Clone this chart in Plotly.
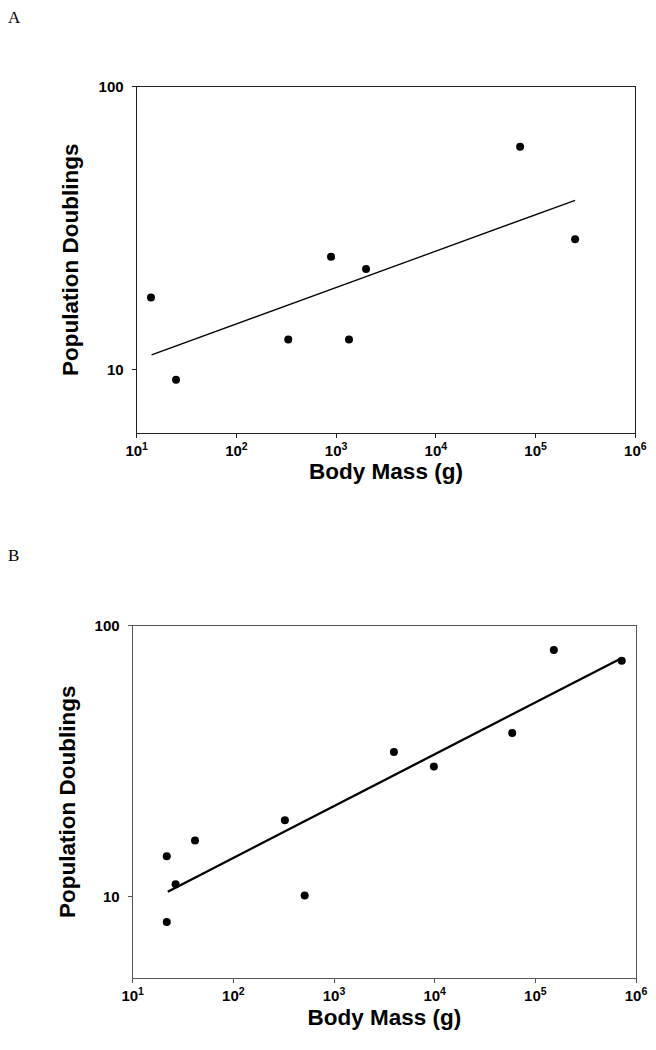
import math
import plotly.graph_objects as go

# ---- Panel A data ----
a_mass = [13.9, 24.8, 331, 889, 1345, 1995, 70000, 249000]
a_pd = [18.0, 9.22, 12.8, 25.1, 12.8, 22.7, 61.4, 28.9]
a_fit_mass = [14.1, 249000]
a_fit_pd = [11.3, 39.7]

# ---- Panel B data ----
b_mass = [21.8, 26.7, 21.8, 41.6, 325, 511, 3935, 9820, 58900, 152700, 722000]
b_pd = [14.06, 11.07, 8.04, 16.07, 19.1, 10.06, 34.1, 30.2, 40.1, 81.3, 74.2]
b_fit_mass = [22.3, 700000]
b_fit_pd = [10.4, 75.5]

x_tickvals = [10, 100, 1000, 10000, 100000, 1000000]
x_ticktext = ["10<sup>1</sup>", "10<sup>2</sup>", "10<sup>3</sup>",
              "10<sup>4</sup>", "10<sup>5</sup>", "10<sup>6</sup>"]
y_tickvals = [10, 100]
y_ticktext = ["10", "100"]

FONT = "Liberation Sans, Arial, sans-serif"

fig = go.Figure()
fig.add_trace(go.Scatter(x=a_fit_mass, y=a_fit_pd, mode="lines",
                         line=dict(color="black", width=1.3),
                         xaxis="x", yaxis="y", showlegend=False))
fig.add_trace(go.Scatter(x=a_mass, y=a_pd, mode="markers",
                         marker=dict(color="black", size=8),
                         xaxis="x", yaxis="y", showlegend=False))
fig.add_trace(go.Scatter(x=b_fit_mass, y=b_fit_pd, mode="lines",
                         line=dict(color="black", width=2.3),
                         xaxis="x2", yaxis="y2", showlegend=False))
fig.add_trace(go.Scatter(x=b_mass, y=b_pd, mode="markers",
                         marker=dict(color="black", size=8),
                         xaxis="x2", yaxis="y2", showlegend=False))


def xaxis(domain, anchor, color, standoff):
    return dict(type="log", domain=domain, anchor=anchor, automargin=False,
                range=[1, 6], tickvals=x_tickvals, ticktext=x_ticktext,
                ticks="outside", ticklen=4, tickwidth=1, tickcolor=color,
                showline=True, linecolor=color, linewidth=1.2, mirror=True,
                showgrid=False, zeroline=False,
                tickfont=dict(family=FONT, size=15, color="black", weight="bold"),
                title=dict(text="<b>Body Mass (g)</b>",
                           font=dict(family=FONT, size=22.5, color="black"),
                           standoff=standoff))


def yaxis(domain, anchor, lo, color, standoff):
    return dict(type="log", domain=domain, anchor=anchor, automargin=False,
                range=[math.log10(lo), 2], tickvals=y_tickvals, ticktext=y_ticktext,
                ticks="outside", ticklen=4, tickwidth=1, tickcolor=color,
                ticklabelstandoff=5,
                showline=True, linecolor=color, linewidth=1.2, mirror=True,
                showgrid=False, zeroline=False,
                tickfont=dict(family=FONT, size=15, color="black", weight="bold"),
                title=dict(text="<b>Population Doublings</b>",
                           font=dict(family=FONT, size=22.5, color="black"),
                           standoff=standoff))


# the page body adds an 8px margin around the figure
OFF = 8
W, H = 656 - OFF, 1050 - OFF


def px(v):
    return (v - OFF) / W


def py(v):
    return 1 - (v - OFF) / H


fig.update_layout(
    width=W, height=H,
    margin=dict(l=0, r=0, t=0, b=0),
    paper_bgcolor="white", plot_bgcolor="white",
    xaxis=xaxis([px(136.7), px(635.3)], "y", "#222222", 4),
    yaxis=yaxis([py(432.7), py(86.7)], "x", 6.0, "#222222", 13),
    xaxis2=xaxis([px(132.7), px(636)], "y2", "#555555", 6),
    yaxis2=yaxis([py(977.7), py(625.7)], "x2", 5.0, "#555555", 12),
    annotations=[
        dict(text="A", x=px(6), y=py(6), xref="paper", yref="paper",
             xanchor="left", yanchor="top", showarrow=False,
             font=dict(family="Liberation Serif, Times New Roman, serif", size=17, color="black")),
        dict(text="B", x=px(6), y=py(544), xref="paper", yref="paper",
             xanchor="left", yanchor="top", showarrow=False,
             font=dict(family="Liberation Serif, Times New Roman, serif", size=17, color="black")),
    ],
)

fig.write_html("out.html")
